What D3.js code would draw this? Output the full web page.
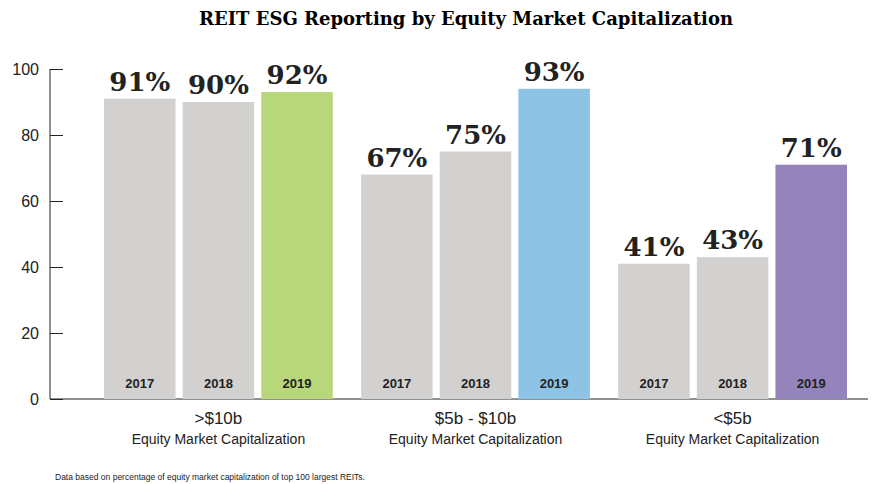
<!DOCTYPE html>
<html><head><meta charset="utf-8">
<script src="https://cdn.jsdelivr.net/npm/d3@7"></script>
<style>body{margin:0;background:#fff}</style>
</head><body>
<script>
var groups = [">$10b", "$5b - $10b", "<$5b"];
var years = ["2017", "2018", "2019"];
// bar heights as drawn and the printed labels
var barValues = [[91, 90, 93], [68, 75, 94], [41, 43, 71]];
var labelValues = [[91, 90, 92], [67, 75, 93], [41, 43, 71]];
var highlight = ["#b8d77b", "#8dc4e6", "#9484bc"];
var yTicks = [0, 20, 40, 60, 80, 100];

var svg = d3.select("body").append("svg").attr("width", 888).attr("height", 484);

svg.append("text").attr("x", 466).attr("y", 25).attr("text-anchor", "middle")
	.style("font-family", "DejaVu Serif").style("font-weight", "bold").style("font-size", "18px")
	.text("REIT ESG Reporting by Equity Market Capitalization");

var y = d3.scaleLinear().domain([0, 100]).range([399, 69]);
var x0 = d3.scaleBand().domain(groups).range([104, 847]).paddingInner(0.11);
var x1 = d3.scaleBand().domain(years).range([0, x0.bandwidth()]).paddingInner(0.09);

var ax = svg.append("g").attr("transform", "translate(50,0)")
	.call(d3.axisRight(y).tickValues(yTicks).tickSize(13).tickFormat(""));
ax.select(".domain").remove();
ax.selectAll("line").attr("stroke", "#222");
svg.append("line").attr("x1", 50).attr("x2", 50).attr("y1", 69).attr("y2", 399).attr("stroke", "#222");
svg.append("line").attr("x1", 50).attr("x2", 868).attr("y1", 399).attr("y2", 399).attr("stroke", "#222");
svg.selectAll(".yl").data(yTicks).enter().append("text")
	.attr("x", 39).attr("y", function(d) { return y(d) + 6; }).attr("text-anchor", "end")
	.style("font-family", "Liberation Sans").style("font-size", "16px").attr("fill", "#222")
	.text(function(d) { return d; });

groups.forEach(function(g, gi) {
	var gx = x0(g);
	years.forEach(function(yr, yi) {
		var v = barValues[gi][yi];
		var bx = gx + x1(yr), w = x1.bandwidth();
		svg.append("rect").attr("x", bx).attr("y", y(v)).attr("width", w)
			.attr("height", y(0) - y(v))
			.attr("fill", yi == 2 ? highlight[gi] : "#d2d1cf");
		svg.append("text").attr("x", bx + w / 2).attr("y", y(v) - 8).attr("text-anchor", "middle")
			.style("font-family", "DejaVu Serif").style("font-weight", "bold").style("font-size", "26px").attr("fill", "#222")
			.text(labelValues[gi][yi] + "%");
		svg.append("text").attr("x", bx + w / 2).attr("y", 388).attr("text-anchor", "middle")
			.style("font-family", "Liberation Sans").style("font-weight", "bold").style("font-size", "13px")
			.attr("fill", "#222").text(yr);
	});
	var cx = gx + x0.bandwidth() / 2;
	svg.append("text").attr("x", cx).attr("y", 424).attr("text-anchor", "middle")
		.style("font-family", "Liberation Sans").style("font-size", "17px").attr("fill", "#222").text(g);
	svg.append("text").attr("x", cx).attr("y", 444).attr("text-anchor", "middle")
		.style("font-family", "Liberation Sans").style("font-size", "14px").attr("fill", "#222")
		.text("Equity Market Capitalization");
});

svg.append("text").attr("x", 55).attr("y", 480)
	.style("font-family", "Liberation Sans").style("font-size", "8.5px").attr("fill", "#222")
	.text("Data based on percentage of equity market capitalization of top 100 largest REITs.");
</script>
</body></html>
